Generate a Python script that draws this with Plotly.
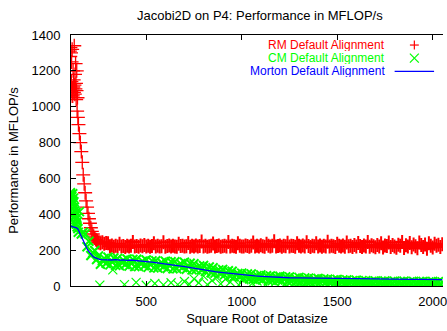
import plotly.graph_objects as go

# ---------------- data ----------------
rm_x_early = [100,102,103,105,106,108,109,111,112,114,115,117,118,120,121,123,124,126,127,129,
              130,132,133,135,136,138,140,142,145,150,155,160,165,170,175,180,185,190,195,200,
              205,210,215,220,225,230,235,240,245]
rm_y_early = [1310,1280,1330,1060,1300,1140,1250,1090,1320,1100,1060,1200,1110,1150,1080,1340,1120,1070,1180,1100,
              1240,1130,1040,1090,1200,975,1050,940,900,850,800,750,690,620,570,520,475,440,405,375,
              350,325,305,290,278,268,260,255,250]
rm_x_main = list(range(250, 2051, 10))
rm_y_main = [242, 238, 244, 236, 240, 238,
             222, 226, 219, 224, 221, 235, 220, 223, 218, 225,
             221, 224, 246, 220, 223, 219, 226, 222, 228, 220,
             224, 219, 223, 238, 221, 225, 220, 222, 244, 219,
             223, 226, 220, 224, 221, 219, 236, 223, 225, 220,
             222, 240, 219, 224, 221, 226, 220, 223, 248, 221,
             225, 219, 222, 224, 237, 220, 223, 226, 219, 222,
             224, 221, 245, 220, 225, 222, 219, 239, 224, 221,
             220, 226, 223, 219, 225, 242, 221, 224, 220, 227,
             222, 219, 236, 224, 221, 225, 250, 220, 223, 226,
             219, 224, 222, 241, 220, 225, 223, 219, 238, 224,
             221, 226, 220, 244, 223, 218, 225, 222, 239, 221,
             226, 219, 224, 221, 247, 220, 225, 222, 218, 236,
             224, 221, 226, 219, 243, 222, 225, 217, 228, 221,
             240, 223, 218, 226, 221, 245, 219, 227, 222, 216,
             229, 220, 238, 215, 226, 223, 242, 218, 228, 221,
             214, 230, 224, 246, 212, 227, 221, 240, 216, 231,
             222, 210, 243, 228, 218, 232, 208, 238, 225, 215,
             236, 224, 230, 218, 233]

cm_x_early = [100,101,103,104,106,107,109,110,112,113,115,116,118,119,121,122,124,125,127,128,
              130,132,134,136,138,140,142,144]
cm_y_early = [505,490,520,470,510,495,455,500,480,430,515,460,400,490,470,380,440,350,420,395,
              370,410,345,380,330,360,320,300]
cm_x_main = list(range(150, 2051, 10))
cm_y_main = [415, 290, 300, 290, 219, 250, 170, 186, 198, 148,
             167, 121, 142, 154, 127, 160, 118, 137, 156, 115,
             154, 113, 133, 144, 120, 151, 111, 130, 148, 109,
             149, 108, 127, 138, 113, 145, 104, 123, 140, 101,
             141, 100, 120, 131, 107, 138, 98, 117, 135, 96,
             135, 96, 115, 125, 103, 132, 93, 111, 127, 90,
             124, 90, 104, 112, 90, 114, 80, 94, 106, 74,
             102, 72, 84, 90, 72, 92, 62, 74, 85, 56,
             82, 52, 64, 70, 52, 72, 43, 56, 67, 40,
             67, 38, 51, 58, 41, 62, 33, 46, 57, 30,
             56, 30, 42, 50, 33, 54, 27, 40, 51, 26,
             50, 26, 37, 44, 29, 48, 23, 35, 45, 22,
             44, 22, 32, 39, 25, 42, 19, 30, 39, 18,
             38, 18, 27, 33, 20, 36, 15, 25, 33, 14,
             34, 13, 23, 29, 16, 32, 12, 21, 30, 11,
             29, 11, 20, 25, 14, 28, 10, 19, 27, 10,
             28, 10, 19, 24, 13, 27, 9, 18, 26, 9,
             27, 9, 18, 23, 12, 26, 8, 17, 25, 8,
             25, 9, 17, 22, 12, 25, 9, 17, 24, 8,
             22]
cm_x_low = [257, 325, 386, 447, 500, 545, 590, 630, 665, 700, 725, 750, 775, 800, 820, 845, 870, 890, 915, 940,
            960, 985, 1010, 1030, 1055, 1080, 1100, 1125, 1150, 1175, 1200, 1225, 1250, 1280, 1310, 1350,
            1400, 1450, 1500, 1550, 1600]
cm_y_low = [5, 90, 8, 20, 4, 14, 6, 18, 8, 25, 10, 40, 18, 55, 8, 30, 48, 12, 38, 22,
            52, 6, 34, 45, 15, 28, 50, 8, 36, 20, 44, 10, 30, 18, 8, 24,
            12, 6, 16, 8, 10]

mo_x = [100,110,120,128,135,142,150,156,162,168,174,180,186,192,198,205,212,220,228,236,
        245,255,265,280,300,320,340,360,380,400,420,440,460,480,500,530,560,590,620,650,
        680,710,740,770,800,830,860,890,920,950,980,1010,1040,1070,1100,1130,1160,1200,1250,1300,
        1350,1400,1450,1500,1550,1600,1650,1700,1750,1800,1850,1900,1950,2000,2050]
mo_y = [335,332,330,326,324,318,300,285,268,252,238,226,214,204,194,184,175,166,160,155,
        151,148,147,146,146,145,147,144,146,143,145,142,141,139,136,133,129,126,122,118,
        112,107,101,95,90,85,80,76,72,68,65,62,59,56,54,52,50,48,46,45,
        44,43,42,41,41,40,40,39,39,38,38,37,37,37,36]

assert len(rm_x_main) == len(rm_y_main)
assert len(cm_x_main) == len(cm_y_main)
assert len(cm_x_low) == len(cm_y_low)
assert len(mo_x) == len(mo_y)

series_names = ["RM Default Alignment", "CM Default Alignment", "Morton Default Alignment"]
x_ticks = [500, 1000, 1500, 2000]
y_ticks = [0, 200, 400, 600, 800, 1000, 1200, 1400]
title_text = "Jacobi2D on P4: Performance in MFLOP/s"
x_title = "Square Root of Datasize"
y_title = "Performance in MFLOP/s"

RED, GREEN, BLUE = "#ff0000", "#00ff00", "#0000ff"
FONT = "Liberation Sans, Arial, sans-serif"
FS = 13

fig = go.Figure()
fig.add_trace(go.Scatter(
    x=rm_x_early, y=rm_y_early, mode="markers", name=series_names[0],
    marker=dict(symbol="cross-thin", size=10, color=RED, line=dict(color=RED, width=1.3)),
    showlegend=False))
fig.add_trace(go.Scatter(
    x=rm_x_main, y=rm_y_main, mode="markers", name=series_names[0],
    marker=dict(symbol="cross-thin", size=10, color=RED, line=dict(color=RED, width=2)),
    showlegend=False))
fig.add_trace(go.Scatter(
    x=cm_x_early + cm_x_main, y=cm_y_early + cm_y_main, mode="markers",
    name=series_names[1],
    marker=dict(symbol="x-thin", size=9, color=GREEN, line=dict(color=GREEN, width=2)),
    showlegend=False))
fig.add_trace(go.Scatter(
    x=cm_x_low, y=cm_y_low, mode="markers", name=series_names[1],
    marker=dict(symbol="x-thin", size=9, color=GREEN, line=dict(color=GREEN, width=1.2)),
    showlegend=False))
fig.add_trace(go.Scatter(
    x=mo_x, y=mo_y, mode="lines", name=series_names[2],
    line=dict(color=BLUE, width=1.3), showlegend=False))

# title as annotation (centered over the plot)
fig.add_annotation(x=(262 - 71) / 376, y=(286 - 15) / 251, xref="paper", yref="paper",
                   text=title_text, showarrow=False, xanchor="center", yanchor="middle",
                   font=dict(size=13, family=FONT, color="black"))

# legend drawn gnuplot-style: text right-aligned, sample to the right
leg_rows = [0.960, 0.908, 0.855]
leg_cols = [RED, GREEN, BLUE]
for name, yy, col in zip(series_names, leg_rows, leg_cols):
    fig.add_annotation(x=0.848, y=yy, xref="paper", yref="paper", text=name, showarrow=False,
                       xanchor="right", yanchor="middle", height=12, borderpad=0,
                       font=dict(color=col, size=12, family=FONT))

# legend samples (plus, cross, line) as paper-space shapes
sx, hw, hh = 0.923, 4.5 / 376, 4.5 / 251
fig.add_shape(type="line", xref="paper", yref="paper", x0=sx - hw, x1=sx + hw,
              y0=leg_rows[0], y1=leg_rows[0], line=dict(color=RED, width=1.2))
fig.add_shape(type="line", xref="paper", yref="paper", x0=sx, x1=sx,
              y0=leg_rows[0] - hh, y1=leg_rows[0] + hh, line=dict(color=RED, width=1.2))
fig.add_shape(type="line", xref="paper", yref="paper", x0=sx - hw, x1=sx + hw,
              y0=leg_rows[1] - hh, y1=leg_rows[1] + hh, line=dict(color=GREEN, width=1.2))
fig.add_shape(type="line", xref="paper", yref="paper", x0=sx - hw, x1=sx + hw,
              y0=leg_rows[1] + hh, y1=leg_rows[1] - hh, line=dict(color=GREEN, width=1.2))
fig.add_shape(type="line", xref="paper", yref="paper", x0=0.870, x1=0.976,
              y0=leg_rows[2], y1=leg_rows[2], line=dict(color=BLUE, width=1.2))

fig.update_layout(
    width=447, height=331,
    margin=dict(l=71, r=0, t=35, b=45),
    paper_bgcolor="white", plot_bgcolor="white",
    font=dict(family=FONT, size=FS, color="#000000"),
    xaxis=dict(range=[106, 2054], tickvals=x_ticks, ticks="inside", ticklen=5, tickcolor="black",
               showline=True, linecolor="black", linewidth=1, mirror="ticks", showgrid=False,
               zeroline=False,
               title=dict(text=x_title, standoff=6, font=dict(size=13, family=FONT)),
               tickfont=dict(size=FS), ticklabeloverflow="allow", ticklabelstandoff=3),
    yaxis=dict(range=[0, 1400], tickvals=y_ticks, ticks="inside", ticklen=5, tickcolor="black",
               showline=True, linecolor="black", linewidth=1, mirror=False, showgrid=False,
               zeroline=False,
               title=dict(text=y_title, standoff=9, font=dict(size=13, family=FONT)),
               tickfont=dict(size=FS), ticklabelstandoff=7),
)

fig.write_html("out.html")
